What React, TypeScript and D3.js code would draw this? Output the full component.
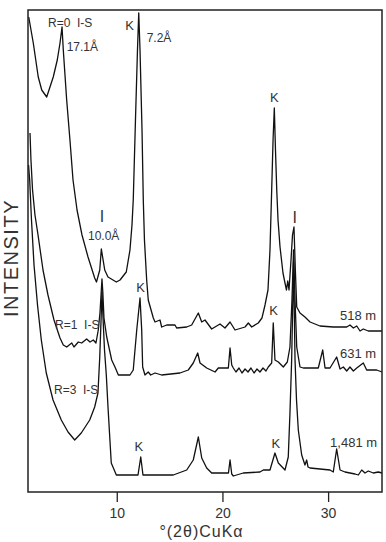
// XRD patterns of clay fractions, three depths
import React, {useRef, useEffect} from 'react';
import * as d3 from 'd3';

// size
const svgWidth = 386;
const svgHeight = 542;
const margin = {top: 10, right: 4, bottom: 50, left: 28};

// data: [°2θ CuKα, intensity (a.u.)]
const sample518: [number, number][] = [
    [1.67,475],[2.10,449],[2.57,415],[2.90,402],[3.37,395],[3.99,415],[4.37,432],[4.63,449],[4.82,465],[4.94,442],
    [5.26,392],[5.57,352],[5.86,312],[6.24,282],[6.71,257],[7.28,235],[7.91,214],[8.08,210],[8.39,222],[8.54,243],
    [8.86,222],[9.17,215],[9.96,210],[10.31,212],[10.90,220],[11.25,242],[11.44,267],[11.56,292],[11.77,372],[11.96,442],
    [12.08,479],[12.20,442],[12.39,362],[12.51,292],[12.62,252],[12.83,212],[12.98,192],[13.46,174],[13.62,170],[14.09,172],
    [14.25,165],[14.73,167],[15.51,167],[15.67,164],[16.62,165],[17.09,167],[17.72,179],[18.04,170],[18.35,172],[18.98,163],
    [19.77,168],[20.24,164],[20.72,170],[21.19,162],[22.14,165],[22.45,169],[22.77,165],[23.39,169],[23.74,174],[24.03,187],
    [24.31,202],[24.50,242],[24.66,302],[24.79,352],[24.91,384],[25.02,342],[25.14,302],[25.26,272],[25.45,245],[25.73,219],
    [25.92,209],[26.06,202],[26.18,211],[26.30,202],[26.49,232],[26.63,257],[26.77,265],[26.90,222],[27.03,185],[27.34,179],
    [27.81,175],[28.29,170],[29.23,166],[30.49,165],[31.76,165],[32.07,167],[32.39,164],[32.71,166],[33.02,161],[33.33,163],
    [33.80,161],[35.10,161],
];
const sample631: [number, number][] = [
    [1.79,359],[1.88,332],[2.03,302],[2.26,277],[2.55,257],[3.02,222],[3.49,197],[4.06,172],[4.63,154],[4.94,147],
    [5.26,145],[5.74,149],[5.95,145],[6.36,150],[6.68,149],[7.15,153],[7.47,150],[7.78,152],[8.03,149],[8.25,162],
    [8.41,179],[8.54,202],[8.60,213],[8.68,200],[8.79,174],[9.05,155],[9.52,132],[9.83,125],[10.15,117],[11.25,117],
    [11.56,122],[11.89,162],[12.20,194],[12.36,162],[12.45,125],[12.67,117],[12.98,120],[13.21,117],[13.62,119],[14.25,117],
    [15.98,119],[16.77,122],[17.24,129],[17.66,139],[17.88,129],[18.51,124],[19.30,120],[19.61,124],[20.56,124],[20.72,144],
    [20.88,127],[21.03,124],[21.28,120],[21.57,124],[21.85,119],[22.14,123],[22.42,120],[22.70,124],[22.99,119],[23.27,123],
    [23.55,120],[23.84,124],[24.12,121],[24.34,125],[24.66,129],[24.81,169],[24.97,132],[25.29,130],[25.76,125],[26.14,130],
    [26.39,145],[26.58,192],[26.73,242],[26.87,192],[27.03,145],[27.34,125],[27.65,124],[29.07,124],[29.49,142],[29.71,124],
    [30.18,124],[30.81,135],[31.13,123],[31.44,125],[31.76,121],[32.07,125],[32.39,121],[32.71,124],[33.33,129],[33.65,122],
    [34.60,122],[35.10,120],
];
const sample1481: [number, number][] = [
    [1.65,327],[1.76,312],[1.93,272],[2.17,227],[2.50,187],[2.86,152],[3.33,119],[3.97,92],[4.75,72],[5.39,60],
    [6.02,52],[6.64,59],[7.44,72],[7.91,85],[8.22,99],[8.39,135],[8.53,177],[8.60,200],[8.70,174],[8.84,142],
    [9.01,117],[9.17,85],[9.48,29],[9.96,17],[11.06,17],[12.01,17],[12.27,35],[12.48,17],[12.96,17],[14.09,17],
    [15.35,17],[16.62,22],[17.24,32],[17.72,55],[18.04,34],[18.51,24],[18.98,19],[19.93,19],[20.57,19],[20.72,32],
    [20.88,18],[21.03,16],[21.97,19],[23.55,20],[23.87,22],[24.50,22],[24.97,39],[25.29,29],[25.92,22],[26.23,35],
    [26.39,79],[26.55,132],[26.73,230],[26.87,132],[27.01,92],[27.18,62],[27.50,37],[27.81,27],[27.97,32],[28.10,25],
    [28.29,24],[30.18,22],[30.49,20],[30.81,43],[31.13,22],[31.60,20],[32.07,19],[32.55,18],[32.86,17],[33.18,22],
    [33.49,19],[33.80,21],[34.28,19],[34.75,20],[35.10,19],
];
const xTicks = [10, 20, 30];
const xDomain = [1.6, 35.1];
const yDomain = [0, 482];

// peak labels: [text, °2θ, intensity, anchor, font size]
const peakLabels: [string, number, number, string, number][] = [
    ['R=0  I-S', 3.49, 465, 'start', 12],
    ['17.1Å', 5.26, 441, 'start', 12],
    ['K', 11.21, 462, 'middle', 13],
    ['7.2Å', 12.83, 450, 'start', 12],
    ['K', 24.91, 390, 'middle', 13],
    ['I', 8.60, 270, 'middle', 16],
    ['10.0Å', 7.28, 252, 'start', 12],
    ['R=1  I-S', 4.16, 163, 'start', 12],
    ['K', 12.25, 200, 'middle', 13],
    ['K', 24.85, 177, 'middle', 13],
    ['I', 26.84, 269, 'middle', 16],
    ['518 m', 31.13, 172, 'start', 13],
    ['631 m', 31.13, 134, 'start', 13],
    ['R=3  I-S', 4.06, 98, 'start', 12],
    ['K', 12.10, 41, 'middle', 13],
    ['K', 25.05, 44, 'middle', 13],
    ['1,481 m', 30.19, 45, 'start', 13],
];

const font = '"Liberation Sans", Arial, sans-serif';

export default function App(){
    const svgRef = useRef<SVGSVGElement>(null);

    useEffect(() => {
        const svg = d3.select(svgRef.current);
        svg.selectAll('*').remove();

        // scales
        const xScale = d3.scaleLinear()
            .domain(xDomain)
            .range([margin.left, svgWidth - margin.right]);
        const yScale = d3.scaleLinear()
            .domain(yDomain)
            .range([svgHeight - margin.bottom, margin.top]);

        // patterns
        const line = d3.line<[number, number]>()
            .x((d) => xScale(d[0]))
            .y((d) => yScale(d[1]));
        [sample518, sample631, sample1481].forEach((s) => {
            svg.append('path')
                .attr('d', line(s))
                .attr('fill', 'none')
                .attr('stroke', '#111')
                .attr('stroke-width', 1.3)
                .attr('stroke-linejoin', 'round');
        });

        // frame
        svg.append('rect')
            .attr('x', margin.left)
            .attr('y', margin.top)
            .attr('width', svgWidth - margin.left - margin.right)
            .attr('height', svgHeight - margin.top - margin.bottom)
            .attr('fill', 'none')
            .attr('stroke', '#222')
            .attr('stroke-width', 1.5);

        // x axis
        const axis = svg.append('g')
            .attr('transform', `translate(0,${svgHeight - margin.bottom})`)
            .call(d3.axisBottom(xScale).tickValues(xTicks).tickSize(10).tickPadding(6));
        axis.select('.domain').remove();
        axis.selectAll('line').attr('stroke', '#222').attr('stroke-width', 1.3);
        axis.selectAll('text')
            .attr('font-family', font)
            .attr('font-size', 14)
            .attr('fill', '#333');

        // axis titles
        svg.append('text')
            .attr('x', 201.5)
            .attr('y', 537)
            .attr('text-anchor', 'middle')
            .attr('font-family', font)
            .attr('font-size', 16)
            .attr('letter-spacing', 1)
            .attr('fill', '#333')
            .text('°(2θ)CuKα');
        svg.append('text')
            .attr('transform', 'translate(17.5,258) rotate(-90)')
            .attr('text-anchor', 'middle')
            .attr('font-family', font)
            .attr('font-size', 20)
            .attr('letter-spacing', 1.5)
            .attr('fill', '#333')
            .text('INTENSITY');

        // peak labels
        svg.selectAll('text.peak')
            .data(peakLabels)
            .enter()
            .append('text')
            .attr('class', 'peak')
            .attr('x', (d) => xScale(d[1]))
            .attr('y', (d) => yScale(d[2]))
            .attr('text-anchor', (d) => d[3])
            .attr('font-size', (d) => d[4])
            .attr('font-family', font)
            .attr('fill', '#333')
            .style('white-space', 'pre')
            .text((d) => d[0]);
    }, []);

    return (
        <svg ref={svgRef} width={svgWidth} height={svgHeight}
            style={{position: 'absolute', left: 0, top: 0, background: '#fff'}} />
    )
}
